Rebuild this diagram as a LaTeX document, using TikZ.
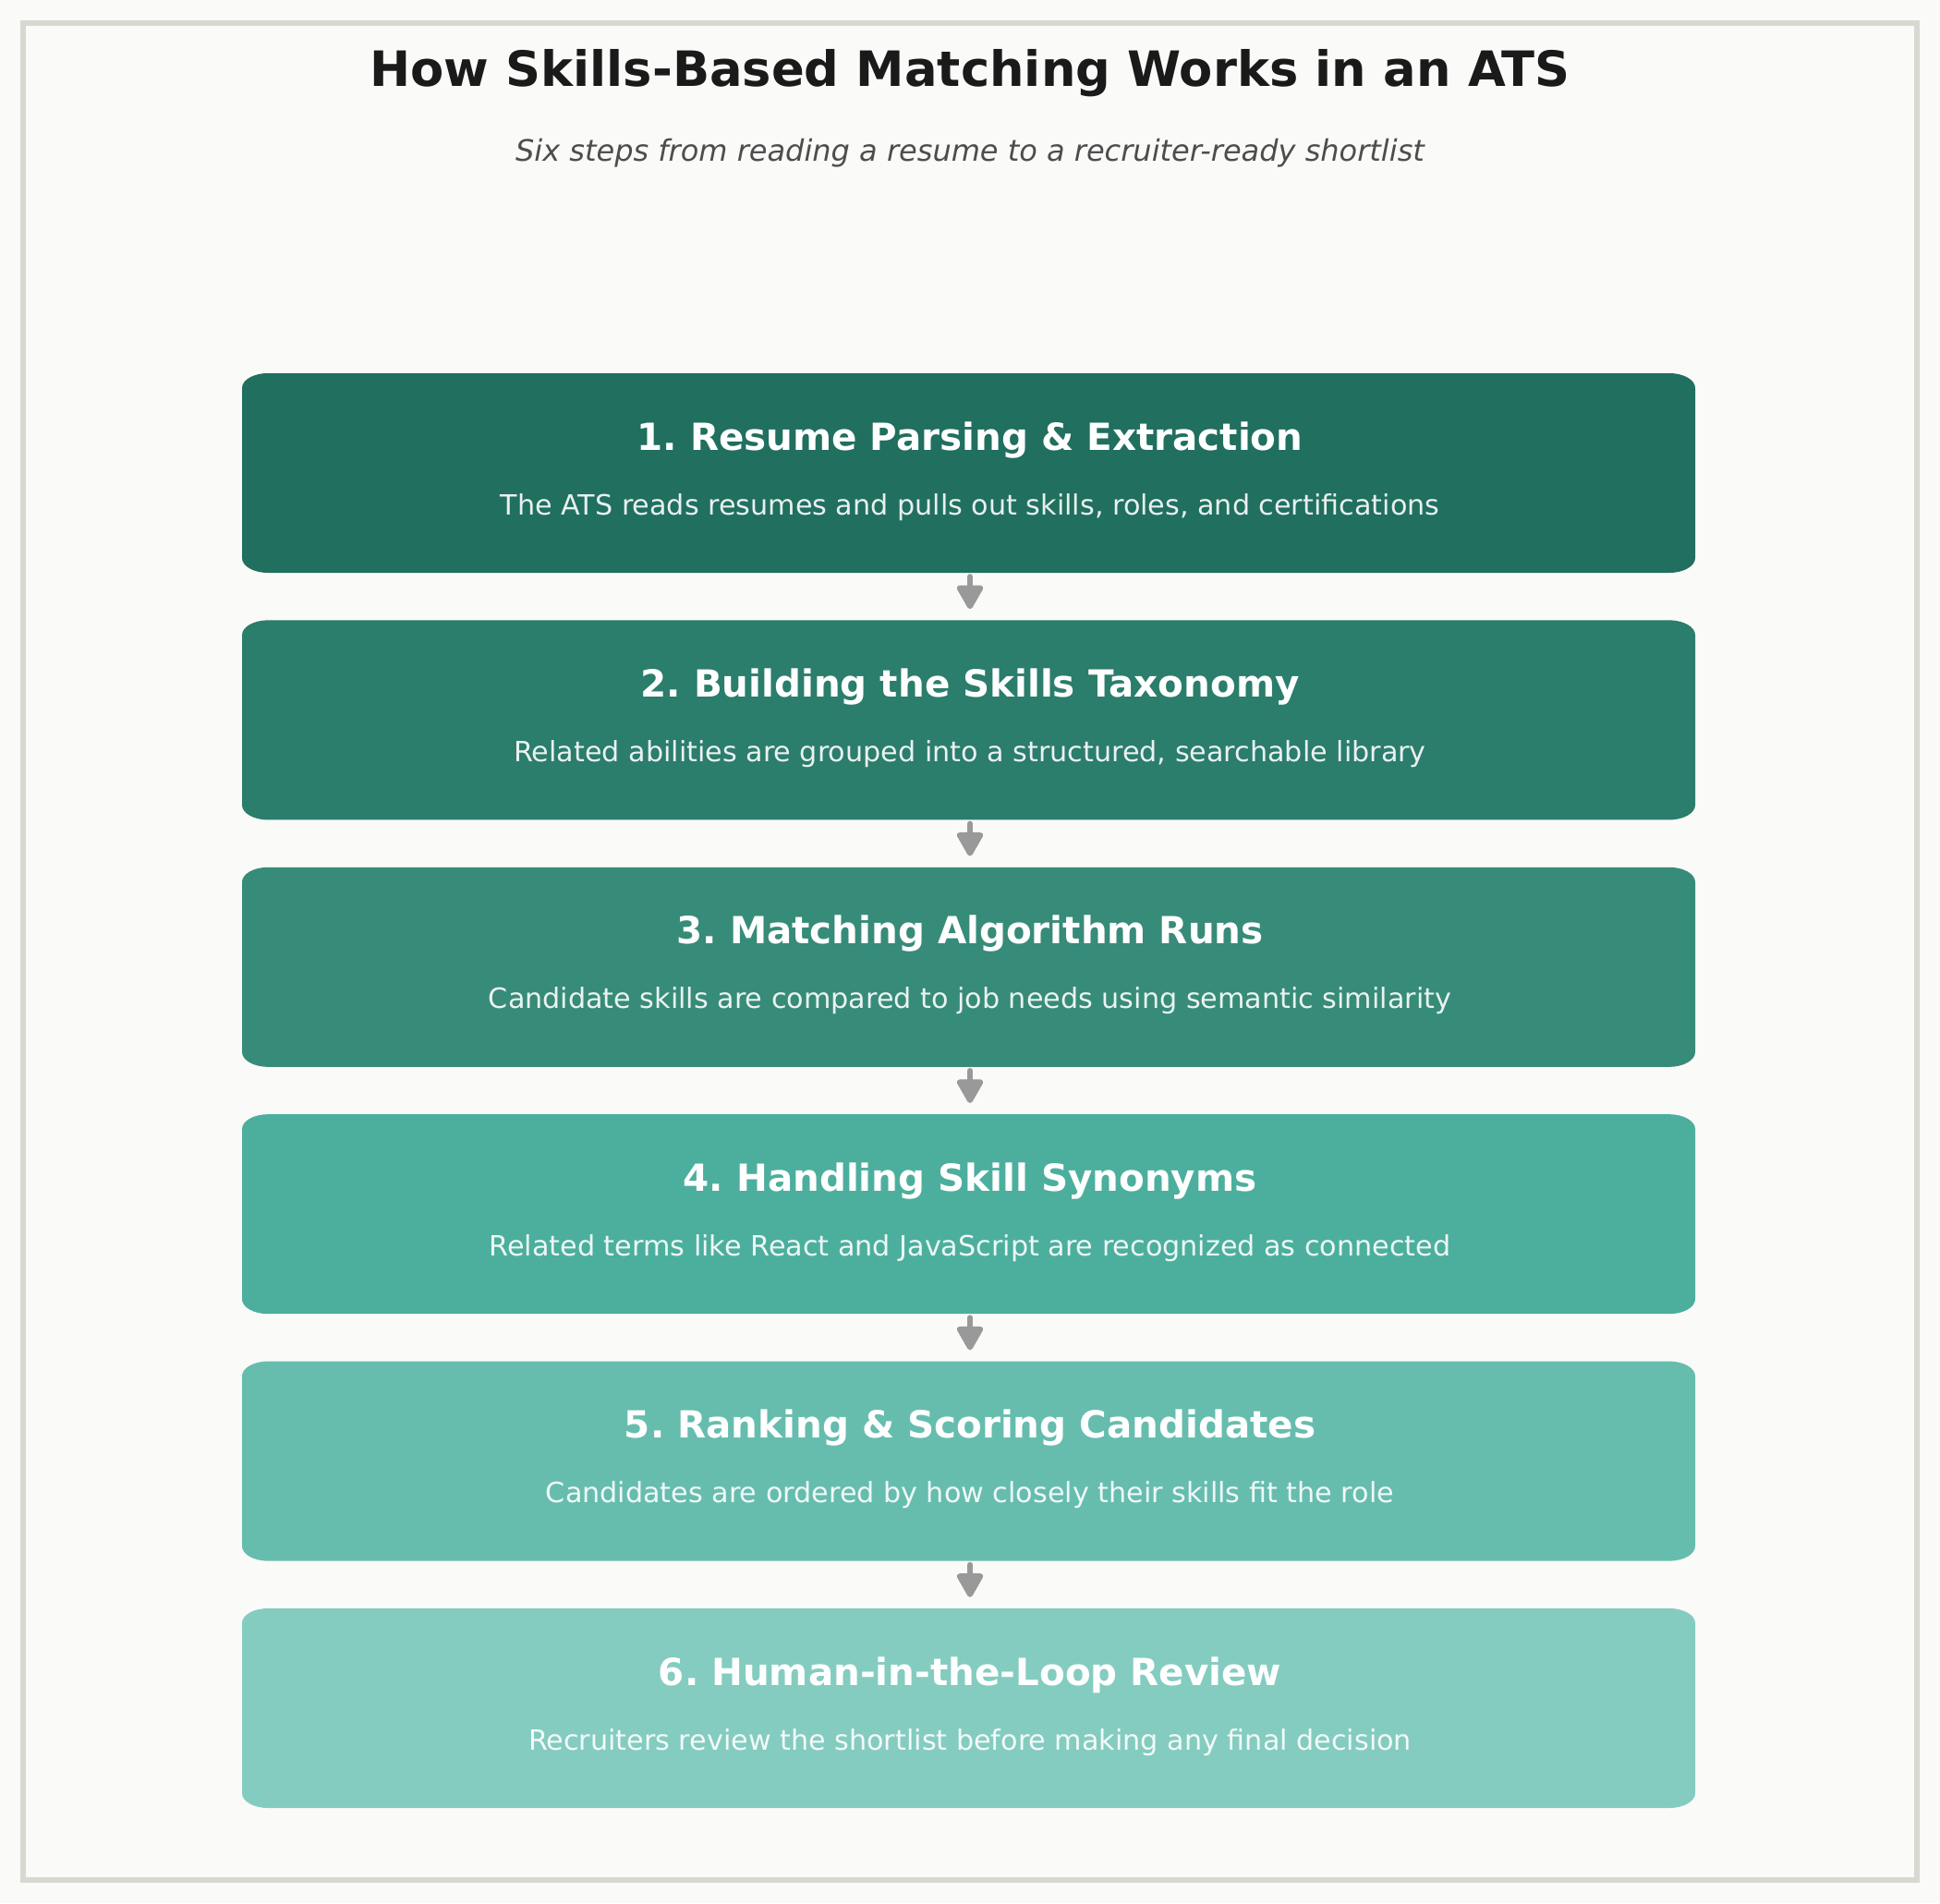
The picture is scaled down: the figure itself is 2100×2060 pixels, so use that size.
\documentclass[tikz,border=0pt]{standalone}
\usepackage{fontspec}
\setmainfont{DejaVu Sans}
\usetikzlibrary{arrows.meta}
\frenchspacing
\definecolor{bg}{HTML}{FAFAF8}
\definecolor{frame}{HTML}{D8D8D0}
\definecolor{cA}{HTML}{206F5F}
\definecolor{cB}{HTML}{2B7D6C}
\definecolor{cC}{HTML}{378B79}
\definecolor{cD}{HTML}{4CAF9D}
\definecolor{cE}{HTML}{66BDAE}
\definecolor{cF}{HTML}{84CCC0}
\definecolor{ttl}{HTML}{1A1A1A}
\definecolor{sub}{HTML}{4D4D4D}
\definecolor{arrc}{HTML}{999999}
\newcommand\stepshape[5]{%
 \fill[#5] (#1+28,#2) -- (#3-28,#2) .. controls (#3-12.5,#2) and (#3,#2+7.2) .. (#3,#2+16)
 -- (#3,#4-16) .. controls (#3,#4-7.2) and (#3-12.5,#4) .. (#3-28,#4)
 -- (#1+28,#4) .. controls (#1+12.5,#4) and (#1,#4-7.2) .. (#1,#4-16)
 -- (#1,#2+16) .. controls (#1,#2+7.2) and (#1+12.5,#2) .. (#1+28,#2) -- cycle;}
\tikzset{
 boxnode/.style={minimum width=1573pt, minimum height=216pt, inner sep=0pt, draw=none},
 steptitle/.style={anchor=base, text=white, font=\fontsize{40.4}{48}\selectfont\bfseries, inner sep=0pt},
 stepdesc/.style={anchor=base, text=white, text opacity=0.9, font=\fontsize{30.2}{36}\selectfont, inner sep=0pt},
 arr/.style={draw=arrc, line width=6pt, line cap=round, -{Triangle[width=31pt,length=29pt,round]}, shorten <=4pt, shorten >=12pt},
}
\begin{document}
\begin{tikzpicture}[x=1pt,y=-1pt]
\fill[bg] (0,0) rectangle (2100,2060);
\useasboundingbox (0,0) rectangle (2100,2060);
\draw[frame, line width=6pt] (25,25) rectangle (2075,2035);
\node[anchor=base, text=ttl, font=\fontsize{52.7}{62}\selectfont\bfseries, inner sep=0pt] (title) at (1050,94) {How Skills-Based Matching Works in an ATS};
\node[anchor=base, text=sub, font=\fontsize{32}{38}\selectfont\itshape, inner sep=0pt] (subtitle) at (1050,175) {Six steps from reading a resume to a recruiter-ready shortlist};
\foreach \i/\c/\t/\d in {
 1/cA/{1. Resume Parsing \& Extraction}/{The ATS reads resumes and pulls out skills, roles, and certifications},
 2/cB/{2. Building the Skills Taxonomy}/{Related abilities are grouped into a structured, searchable library},
 3/cC/{3. Matching Algorithm Runs}/{Candidate skills are compared to job needs using semantic similarity},
 4/cD/{4. Handling Skill Synonyms}/{Related terms like React and JavaScript are recognized as connected},
 5/cE/{5. Ranking \& Scoring Candidates}/{Candidates are ordered by how closely their skills fit the role},
 6/cF/{6. Human-in-the-Loop Review}/{Recruiters review the shortlist before making any final decision}}{
 \pgfmathsetmacro\top{404+267.4*(\i-1)}
 \pgfmathsetmacro\bot{\top+216}
 \stepshape{262}{\top}{1835}{\bot}{\c}
 \node[boxnode] (b\i) at (1050,\top+108) {};
 \node[steptitle] (t\i) at (1050,\top+83) {\t};
 \node[stepdesc] (d\i) at (1050,\top+153) {\d};
}
\foreach \i [evaluate=\i as \j using int(\i+1)] in {1,...,5}{
 \draw[arr] (b\i.south) -- (b\j.north);
}
\end{tikzpicture}
\end{document}
